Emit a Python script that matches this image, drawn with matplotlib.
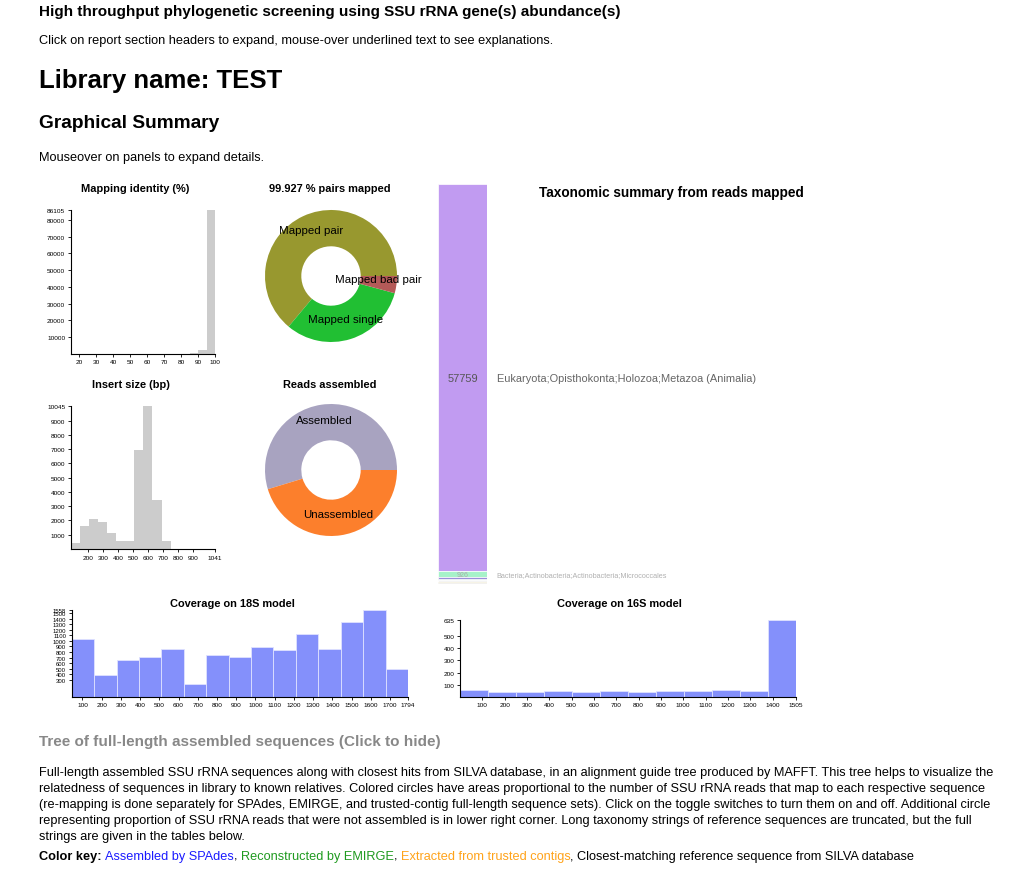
import matplotlib
matplotlib.use('Agg')
import matplotlib.pyplot as plt
import matplotlib.transforms as mtransforms
import math

plt.rcParams['font.family'] = ['Liberation Sans', 'DejaVu Sans']

# ---- data ----
ident_edges = [15, 20, 25, 30, 35, 40, 45, 50, 55, 60, 65, 70, 75, 80, 85, 90, 95, 100]
ident_counts = [0, 0, 0, 0, 0, 0, 0, 0, 0, 0, 0, 0, 0, 0, 600, 2400, 86105]
ident_yticks = [10000, 20000, 30000, 40000, 50000, 60000, 70000, 80000, 86105]

insert_edges = [83, 143.5, 204, 264.5, 325, 385.5, 446, 506.5, 567, 627.5, 688, 748.5]
insert_counts = [400, 1600, 2100, 1900, 1100, 550, 550, 6950, 10045, 3450, 550]
insert_xticks = [200, 300, 400, 500, 600, 700, 800, 900, 1041]
insert_yticks = [1000, 2000, 3000, 4000, 5000, 6000, 7000, 8000, 9000, 10045]

pairs_labels = ['Mapped pair', 'Mapped single', 'Mapped bad pair']
pairs_values = [0.639, 0.319, 0.042]
pairs_colors = ['#98982f', '#21bf33', '#b45a58']

asm_labels = ['Assembled', 'Unassembled']
asm_values = [0.547, 0.453]
asm_colors = ['#a8a3c0', '#fc7f2c']

tax_names = ['Eukaryota;Opisthokonta;Holozoa;Metazoa (Animalia)',
             'Bacteria;Actinobacteria;Actinobacteria;Micrococcales',
             '', '', '', '', '']
tax_counts = [57759, 926, 240, 180, 300, 160, 120]
tax_colors = ['#c19bf1', '#a7f2c9', '#9a8fd9', '#8ea1c9', '#f4f4f4', '#c9b565', '#b5b5b5']

cov18_edges = [44, 160.7, 277.3, 394, 510.7, 627.3, 744, 860.7, 977.3, 1094, 1210.7,
               1327.3, 1444, 1560.7, 1677.3, 1794]
cov18_values = [1030, 390, 663, 705, 848, 227, 752, 705, 884, 842, 1116, 854, 1343, 1558, 501]
cov18_xticks = [100, 200, 300, 400, 500, 600, 700, 800, 900, 1000, 1100, 1200, 1300,
                1400, 1500, 1600, 1700, 1794]
cov18_yticks = [300, 400, 500, 600, 700, 800, 900, 1000, 1100, 1200, 1300, 1400, 1500, 1558]

cov16_edges = [0, 125.4, 250.8, 376.3, 501.7, 627.1, 752.5, 877.9, 1003.3, 1128.8,
               1254.2, 1379.6, 1505]
cov16_values = [55, 36, 41, 47, 41, 44, 36, 50, 50, 55, 44, 635]
cov16_xticks = [100, 200, 300, 400, 500, 600, 700, 800, 900, 1000, 1100, 1200, 1300,
                1400, 1505]
cov16_yticks = [100, 200, 300, 400, 500, 635]

W, H = 1024, 870
fig = plt.figure(figsize=(W / 100, H / 100), dpi=100)


def px(v):
    # css px -> points
    return v * 0.72


def box(x0, y0, x1, y1):
    return fig.add_axes([x0 / W, 1 - y1 / H, (x1 - x0) / W, (y1 - y0) / H])


def txt(x, y, s, size, **kw):
    return fig.text(x / W, 1 - y / H, s, fontsize=px(size), **kw)


def d3_axis(ax):
    for s in ['top', 'right']:
        ax.spines[s].set_visible(False)
    for s in ['left', 'bottom']:
        ax.spines[s].set_linewidth(0.8)
    ax.tick_params(labelsize=px(6.5), length=2.5, width=0.6, pad=1.5)
    ax.set_facecolor('none')


def hist(ax, edges, vals, color, ec='none'):
    widths = [edges[i + 1] - edges[i] for i in range(len(vals))]
    ax.bar(edges[:-1], vals, width=widths, align='edge', color=color,
           edgecolor=ec, linewidth=0.6)
    ax.set_xlim(edges[0], edges[-1])


# ---- page text ----
txt(39, 12, 'High throughput phylogenetic screening using SSU rRNA gene(s) abundance(s)', 15.3,
    weight='bold', va='center')
txt(39, 41, 'Click on report section headers to expand, mouse-over underlined text to see explanations.',
    12.75, va='center')
txt(39, 81, 'Library name: TEST', 25.7, weight='bold', va='center')
txt(39, 124, 'Graphical Summary', 19.2, weight='bold', va='center')
txt(39, 158, 'Mouseover on panels to expand details.', 12.75, va='center')

# ---- mapping identity ----
ax = box(70.7, 210.7, 215.3, 354.7)
hist(ax, ident_edges, ident_counts, '#cccccc')
ax.set_ylim(0, 86105)
ax.set_xticks(range(20, 101, 10))
ax.set_yticks(ident_yticks)
d3_axis(ax)
txt(135, 189, 'Mapping identity (%)', 11, weight='bold', ha='center', va='center')

# ---- insert size ----
ax = box(70.7, 406.7, 214.5, 550)
hist(ax, insert_edges, insert_counts, '#cccccc')
ax.set_xlim(83, 1041)
ax.set_ylim(0, 10045)
ax.set_xticks(insert_xticks)
ax.set_yticks(insert_yticks)
d3_axis(ax)
txt(131, 385, 'Insert size (bp)', 11, weight='bold', ha='center', va='center')


# ---- donuts ----
def donut(cx, cy, vals, labels, colors):
    r = 66
    inner = 29.7 / r
    ax = box(cx - r, cy - r, cx + r, cy + r)
    wedges, _ = ax.pie(vals, colors=colors, startangle=0, counterclock=True, radius=1,
                       wedgeprops=dict(width=1 - inner, linewidth=0))
    for w, lab in zip(wedges, labels):
        a = math.radians((w.theta1 + w.theta2) / 2)
        rr = (1 + inner) / 2
        ax.text(rr * math.cos(a), rr * math.sin(a), lab, ha='center', va='baseline',
                fontsize=px(11.5), color='black')
    ax.set_xlim(-1, 1)
    ax.set_ylim(-1, 1)
    ax.axis('off')


donut(331, 277, pairs_values, pairs_labels, pairs_colors)
txt(330, 189, '99.927 % pairs mapped', 11, weight='bold', ha='center', va='center')
donut(331, 471, asm_values, asm_labels, asm_colors)
txt(330, 385, 'Reads assembled', 11, weight='bold', ha='center', va='center')

# ---- taxonomy stacked bar ----
ax = box(438, 185, 487, 585)
total = sum(tax_counts)
bottom = 0
lab_tr = mtransforms.blended_transform_factory(ax.transAxes, ax.transData)
for i, (n, c, col) in enumerate(zip(tax_names, tax_counts, tax_colors)):
    ax.bar(0, c, bottom=bottom, width=1, color=col, edgecolor='white', linewidth=0.5)
    mid = bottom + c / 2
    if i == 0:
        ax.text(0.5, mid, str(c), transform=lab_tr, ha='center', va='center',
                fontsize=px(11), color='#555555')
        ax.text(1.2, mid, n, transform=lab_tr, ha='left', va='center',
                fontsize=px(11), color='#666666', clip_on=False)
    elif n:
        ax.text(0.5, mid, str(c), transform=lab_tr, ha='center', va='center',
                fontsize=px(7), color='#aaaaaa')
        ax.text(1.2, mid, n, transform=lab_tr, ha='left', va='center',
                fontsize=px(7.3), color='#b0b0b0', clip_on=False)
    bottom += c
ax.set_xlim(-0.5, 0.5)
ax.set_ylim(total, 0)
ax.axis('off')
txt(671.5, 193, 'Taxonomic summary from reads mapped', 13.6, weight='bold', ha='center', va='center')

# ---- coverage 18S ----
ax = box(71.7, 610.7, 408, 697.7)
hist(ax, cov18_edges, cov18_values, '#8490fb', ec='#dfe2ff')
ax.set_ylim(0, 1558)
ax.set_xticks(cov18_xticks)
ax.set_yticks(cov18_yticks)
d3_axis(ax)
ax.tick_params(axis='y', labelsize=px(6))
txt(232, 604, 'Coverage on 18S model', 11, weight='bold', ha='center', va='center')

# ---- coverage 16S ----
ax = box(460, 621, 796, 697.7)
hist(ax, cov16_edges, cov16_values, '#8490fb', ec='#dfe2ff')
ax.set_ylim(0, 635)
ax.set_xticks(cov16_xticks)
ax.set_yticks(cov16_yticks)
d3_axis(ax)
txt(619, 604, 'Coverage on 16S model', 11, weight='bold', ha='center', va='center')

# ---- tree section text ----
txt(39, 742, 'Tree of full-length assembled sequences (Click to hide)', 15.2, weight='bold',
    color='#888888', va='center')
para = [
    'Full-length assembled SSU rRNA sequences along with closest hits from SILVA database, in an alignment guide tree produced by MAFFT. This tree helps to visualize the',
    'relatedness of sequences in library to known relatives. Colored circles have areas proportional to the number of SSU rRNA reads that map to each respective sequence',
    '(re-mapping is done separately for SPAdes, EMIRGE, and trusted-contig full-length sequence sets). Click on the toggle switches to turn them on and off. Additional circle',
    'representing proportion of SSU rRNA reads that were not assembled is in lower right corner. Long taxonomy strings of reference sequences are truncated, but the full',
    'strings are given in the tables below.',
]
for i, line in enumerate(para):
    txt(39, 773 + i * 16, line, 12.8, va='center')

key_parts = [('Color key: ', 'black', 'bold'), ('Assembled by SPAdes', '#1a1aff', 'normal'),
             (', ', 'black', 'normal'), ('Reconstructed by EMIRGE', '#1f9a1f', 'normal'),
             (', ', 'black', 'normal'), ('Extracted from trusted contigs', '#ffa31a', 'normal'),
             (', Closest-matching reference sequence from SILVA database', 'black', 'normal')]
renderer = fig.canvas.get_renderer()
x = 39
for s, col, wt in key_parts:
    t = txt(x, 857, s, 12.8, va='center', color=col, weight=wt)
    bb = t.get_window_extent(renderer)
    x += bb.width

plt.savefig('out.png', dpi=100)
